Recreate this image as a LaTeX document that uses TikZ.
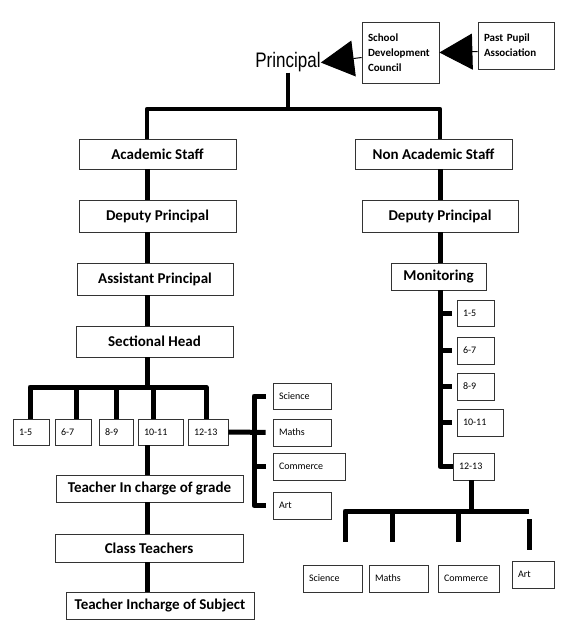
\documentclass[tikz,border=0pt]{standalone}
\usepackage{fontspec}
\setmainfont{Carlito}
\newfontfamily\narrowfont{Liberation Sans}
\usetikzlibrary{positioning, arrows.meta, calc}
\definecolor{boxLine}{HTML}{333333}

\tikzset{
  unitbox/.style={draw=boxLine, line width=0.8pt, inner sep=0pt,
    font=\fontsize{15}{18}\selectfont\bfseries},
  notebox/.style={draw=boxLine, line width=0.8pt, inner xsep=6pt, inner ysep=0pt,
    align=left, font=\fontsize{11}{15}\selectfont\bfseries},
  smallbox/.style={draw=boxLine, line width=0.8pt, inner xsep=6pt, inner ysep=0pt,
    align=left, minimum height=27pt, font=\fontsize{10}{12}\selectfont},
  link/.style={line width=5pt, line join=round},
  tri/.style={line width=1pt, -{Triangle[length=33pt, width=36pt]}},
}

\begin{document}
\begin{tikzpicture}[x=1pt, y=-1pt]
  \useasboundingbox (0,0) rectangle (576,639);

  % Principal and council
  \node[font=\narrowfont\fontsize{21}{21}\selectfont, inner sep=0pt, anchor=base] (prin) at (288,68) {\scalebox{0.81}[1]{Principal}};
  \node[notebox, text width=65pt, minimum height=61pt] (sdc) at (400.5,52.5) {School\\Development\\Council};
  \node[notebox, text width=64pt, minimum height=47pt] (ppa) at (516,45.5) {Past Pupil\\Association};
  \draw[tri] ($(sdc.west)+(0,5)$) -- (prin.east);
  \draw[tri] ($(ppa.west)+(0,6)$) -- (sdc.east);

  % staff columns
  \node[unitbox, minimum width=157pt, minimum height=30pt] (acad) at (157.5,154) {Academic Staff};
  \node[unitbox, minimum width=157pt, minimum height=30pt] (nacad) at (433.5,154) {Non Academic Staff};
  \node[unitbox, minimum width=157pt, minimum height=32pt] (dpl) at (157.5,216) {Deputy Principal};
  \node[unitbox, minimum width=156pt, minimum height=32pt] (dpr) at (440,216) {Deputy Principal};
  \node[unitbox, minimum width=156pt, minimum height=32pt] (asst) at (155,279) {Assistant Principal};
  \node[unitbox, minimum width=95pt, minimum height=27pt] (mon) at (438.5,276.5) {Monitoring};
  \node[unitbox, minimum width=157pt, minimum height=31pt] (sect) at (154.5,341.5) {Sectional Head};
  \node[unitbox, minimum width=187pt, minimum height=27pt] (tcg) at (149.5,488.5) {Teacher In charge of grade};
  \node[unitbox, minimum width=188pt, minimum height=28pt] (ct) at (149,548) {Class Teachers};
  \node[unitbox, minimum width=188pt, minimum height=27pt] (tis) at (160,605.5) {Teacher Incharge of Subject};

  % grades, academic side
  \node[smallbox, text width=24pt, minimum height=26pt] (g15) at (31,432) {1-5};
  \node[smallbox, text width=24pt, minimum height=26pt] (g67) at (73,432) {6-7};
  \node[smallbox, text width=22pt, minimum height=26pt] (g89) at (116,432) {8-9};
  \node[smallbox, text width=33pt, minimum height=26pt] (g1011) at (160.5,432) {10-11};
  \node[smallbox, text width=28pt, minimum height=26pt] (g1213) at (208,432) {12-13};

  % subjects, academic side
  \node[smallbox, text width=46pt, minimum height=26pt] (sciL) at (302,396) {Science};
  \node[smallbox, text width=46pt] (matL) at (302,432.5) {Maths};
  \node[smallbox, text width=60pt] (comL) at (309,466.5) {Commerce};
  \node[smallbox, text width=46pt] (artL) at (302,505.5) {Art};

  % grades, monitoring side
  \node[smallbox, text width=25pt, minimum height=26pt] (r15) at (475.5,313) {1-5};
  \node[smallbox, text width=25pt] (r67) at (475.5,350.5) {6-7};
  \node[smallbox, text width=25pt] (r89) at (475.5,386.5) {8-9};
  \node[smallbox, text width=34pt] (r1011) at (480,422.5) {10-11};
  \node[smallbox, text width=29pt] (r1213) at (473.5,466.5) {12-13};

  % subjects, monitoring side
  \node[smallbox, text width=47pt] (sciB) at (332.5,578.5) {Science};
  \node[smallbox, text width=47pt] (matB) at (398.5,578.5) {Maths};
  \node[smallbox, text width=49pt] (comB) at (468.5,578.5) {Commerce};
  \node[smallbox, text width=30pt] (artB) at (533,574.5) {Art};

  % top split
  \coordinate (top) at (288,109);
  \coordinate (lx) at (147,109);
  \coordinate (rx) at (440,109);
  \draw[link, line width=4.5pt] (prin.south) -- (top);
  \draw[link, line width=4.5pt] (lx |- acad.north) -- (lx) -- (rx) -- (rx |- nacad.north);

  \foreach \a/\b in {acad/dpl, dpl/asst, asst/sect, g1011/tcg, tcg/ct, ct/tis}
    \draw[link] (lx |- \a.south) -- (lx |- \b.north);
  \foreach \a/\b in {nacad/dpr, dpr/mon}
    \draw[link] (rx |- \a.south) -- (rx |- \b.north);

  % grade bar
  \coordinate (d1) at (30,387);
  \coordinate (d2) at (76,387);
  \coordinate (d3) at (116,387);
  \coordinate (d4) at (153,387);
  \coordinate (d5) at (206,387);
  \draw[link] (lx |- sect.south) -- (lx |- d1);
  \draw[link] (d1 |- g15.north) -- (d1) -- (d5) -- (d5 |- g1213.north);
  \foreach \d/\g in {d2/g67, d3/g89, d4/g1011}
    \draw[link] (\d) -- (\d |- \g.north);

  % subject bracket
  \coordinate (bk) at (254,437);
  \coordinate (tS) at ($(sciL.west)+(-7,0)$);
  \coordinate (tA) at ($(artL.west)+(-7,0)$);
  \draw[link] (tS) -- (bk |- tS) -- (bk |- tA) -- (tA);
  \draw[link, shorten >=7pt] (g1213.east) -- (matL.west);
  \draw[link, shorten >=7pt] (bk |- comL.west) -- (comL.west);

  % monitoring spine
  \draw[link] (rx |- mon.south) |- (r1213.west);
  \foreach \b in {r15, r67, r89, r1011}
    \draw[link, shorten >=5pt] (rx |- \b.west) -- (\b.west);

  % bottom bar
  \coordinate (bt) at (471,511);
  \coordinate (e1) at (345,511);
  \coordinate (e2) at (392,511);
  \coordinate (e3) at (458,511);
  \coordinate (e4) at (529,511);
  \draw[link] (bt |- r1213.south) -- (bt);
  \draw[link, shorten <=23pt] (e1 |- sciB.north) -- (e1) -- (e4);
  \draw[link, shorten >=23pt] (e2) -- (e2 |- matB.north);
  \draw[link, shorten >=23pt] (e3) -- (e3 |- comB.north);
  \draw[link, shorten <=8pt, shorten >=11pt] (e4) -- (e4 |- artB.north);
\end{tikzpicture}
\end{document}
